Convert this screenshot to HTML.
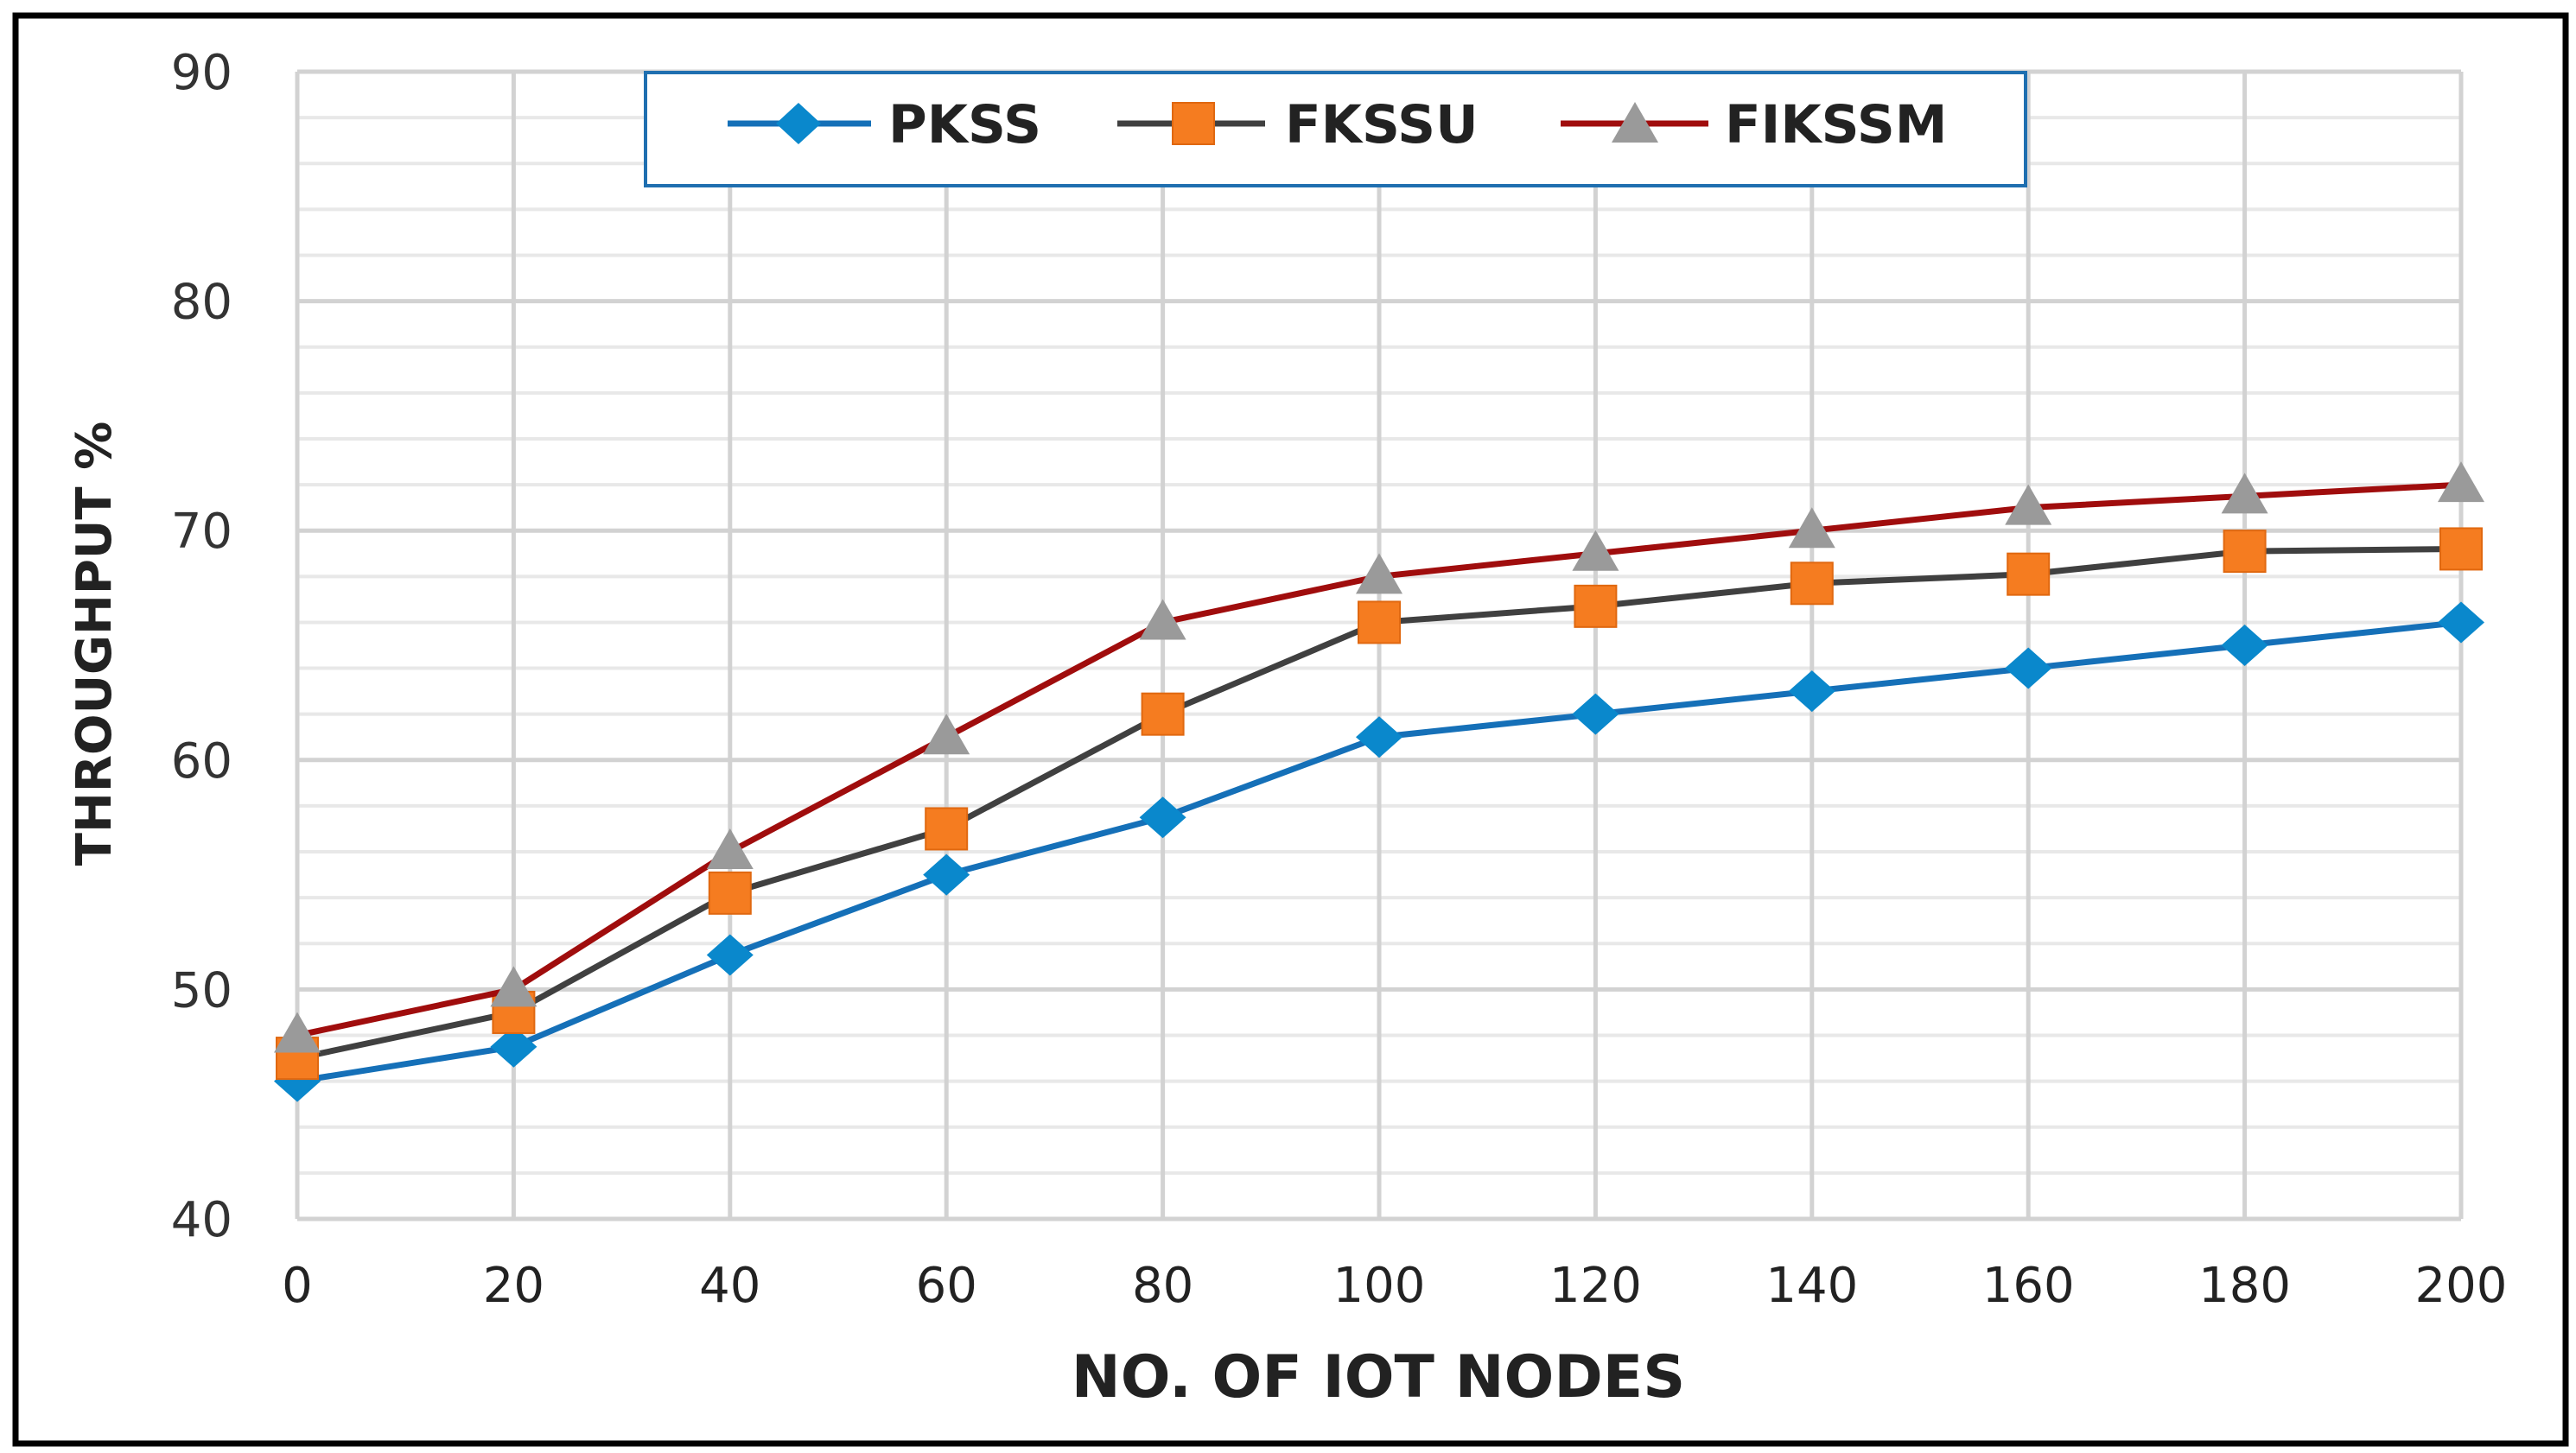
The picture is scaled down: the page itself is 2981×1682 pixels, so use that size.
<!DOCTYPE html>
<html><head><meta charset="utf-8"><style>
html,body{margin:0;padding:0;background:#fff}
svg{display:block}
text{font-family:"DejaVu Sans","Liberation Sans",sans-serif}
</style></head><body>
<svg id="chart" width="2981" height="1682" viewBox="0 0 2981 1682">
<rect x="0" y="0" width="2981" height="1682" fill="#fff"/>
<rect x="18" y="18" width="2951" height="1653" fill="none" stroke="#000" stroke-width="7"/>
<g id="grid"></g>
<g id="ticks"></g>
<g id="series"></g>
<text x="1595" y="1617" font-size="68" font-weight="bold" fill="#222" text-anchor="middle">NO. OF IOT NODES</text>
<text transform="translate(128,745) rotate(-90)" font-size="56" font-weight="bold" fill="#222" text-anchor="middle">THROUGHPUT %</text>
<g>
<rect x="747" y="84" width="1597" height="131" fill="#fff" stroke="#1f6fb0" stroke-width="4"/>
<g>
<line x1="842" y1="143" x2="1008" y2="143" stroke="#1570b8" stroke-width="7"/>
<polygon points="924,119 950,143 924,167 898,143" fill="#0a88cc"/>
<text x="1028" y="165" font-size="61" font-weight="bold" fill="#222">PKSS</text>
</g>
<g>
<line x1="1293" y1="143" x2="1464" y2="143" stroke="#404040" stroke-width="7"/>
<rect x="1357" y="119" width="48" height="48" fill="#f57c20" stroke="#e06810" stroke-width="2"/>
<text x="1487" y="165" font-size="61" font-weight="bold" fill="#222">FKSSU</text>
</g>
<g>
<line x1="1806" y1="143" x2="1977" y2="143" stroke="#a00d0d" stroke-width="7"/>
<polygon points="1892,118 1919,165 1865,165" fill="#9a9a9a"/>
<text x="1996" y="165" font-size="61" font-weight="bold" fill="#222">FIKSSM</text>
</g>
</g>
</svg>
<script>
const categories = [0,20,40,60,80,100,120,140,160,180,200];
const yTicks = [40,50,60,70,80,90];
const pkss = [46,47.5,51.5,55,57.5,61,62,63,64,65,66];
const fkssu = [47,49,54.2,57,62,66,66.7,67.7,68.1,69.1,69.2];
const fikssm = [48,50,56,61,66,68,69,70,71,71.5,72];

const NS="http://www.w3.org/2000/svg";
const X0=344,X1=2848,Y0=1411,Y1=83,XMIN=0,XMAX=200,YMIN=40,YMAX=90;
const xs=v=>X0+(v-XMIN)/(XMAX-XMIN)*(X1-X0);
const ys=v=>Y0-(v-YMIN)/(YMAX-YMIN)*(Y0-Y1);
function mk(tag,attrs,parent){const e=document.createElementNS(NS,tag);for(const k in attrs)e.setAttribute(k,attrs[k]);parent.appendChild(e);return e;}
const grid=document.getElementById('grid'),ticks=document.getElementById('ticks'),series=document.getElementById('series');
for(let v=YMIN;v<=YMAX;v+=2){
  if(v%10===0)continue;
  const l=mk('line',{x1:X0,x2:X1,y1:ys(v),y2:ys(v),stroke:'#e8e8e8','stroke-width':4},grid);
  
  
}
yTicks.forEach(v=>{
  const l=mk('line',{x1:X0,x2:X1,y1:ys(v),y2:ys(v),stroke:'#d2d2d2','stroke-width':5},grid);
  
  
  const t=mk('text',{x:X0-75,y:ys(v)+20,'font-size':56,fill:'#333','text-anchor':'end'},ticks);
  t.textContent=v;
  
  
});
categories.forEach(c=>{
  const l=mk('line',{x1:xs(c),x2:xs(c),y1:Y1,y2:Y0,stroke:'#d2d2d2','stroke-width':5},grid);
  
  
  const t=mk('text',{x:xs(c),y:1507,'font-size':56,fill:'#222','text-anchor':'middle'},ticks);
  t.textContent=c;
  
  
});
function draw(vals,color,marker,name){
  const g=mk('g',{},series);
  
  
  const pts=vals.map((v,i)=>xs(categories[i])+','+ys(v)).join(' ');
  const pl=mk('polyline',{points:pts,fill:'none',stroke:color,'stroke-width':7,'stroke-linejoin':'round'},g);
  
  
  vals.forEach((v,i)=>{
    const x=xs(categories[i]),y=ys(v);let m;
    if(marker==='diamond')m=mk('polygon',{points:`${x},${y-24} ${x+27},${y} ${x},${y+24} ${x-27},${y}`,fill:'#0a88cc'},g);
    else if(marker==='square')m=mk('rect',{x:x-24,y:y-24,width:48,height:48,fill:'#f57c20',stroke:'#e06810','stroke-width':2},g);
    else m=mk('polygon',{points:`${x},${y-27} ${x+27},${y+20} ${x-27},${y+20}`,fill:'#9a9a9a'},g);
    
    
  });
}
draw(pkss,'#1570b8','diamond','pkss');
draw(fkssu,'#404040','square','fkssu');
draw(fikssm,'#a00d0d','triangle','fikssm');
</script>
</body></html>
